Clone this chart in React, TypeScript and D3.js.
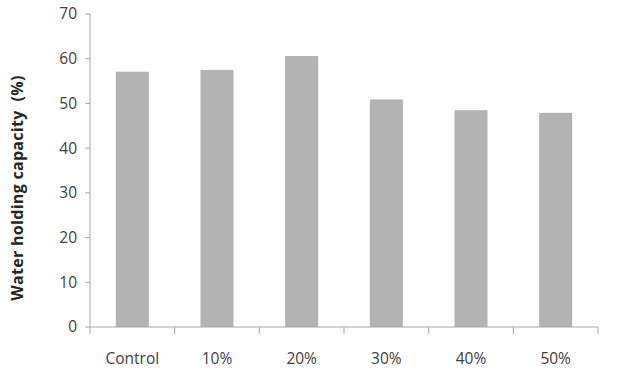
import React from "react";
import * as d3 from "d3";

const categories = ["Control", "10%", "20%", "30%", "40%", "50%"];
const values = [57.1, 57.5, 60.6, 50.9, 48.5, 47.9];
const yTicks = [0, 10, 20, 30, 40, 50, 60, 70];

export default function App() {
  const W = 637, H = 379;
  const left = 90, right = 598, top = 14, bottom = 327;
  const x = d3.scaleBand<string>().domain(categories).range([left, right]).paddingInner(0.61).paddingOuter(0.305);
  const xb = d3.scaleBand<string>().domain(categories).range([left, right]);
  const y = d3.scaleLinear().domain([0, 70]).range([bottom, top]);
  const axisColor = "#a6a6a6";
  const textColor = "#404040";
  const font = "'Open Sans', 'Noto Sans', sans-serif";
  return (
    <svg width={W} height={H} style={{ position: "absolute", left: 0, top: 0 }} fontFamily={font}>
      <rect width={W} height={H} fill="#fff" />
      {categories.map((c, i) => (
        <rect key={c} x={x(c)} y={y(values[i])} width={x.bandwidth()} height={bottom - y(values[i])} fill="#b3b3b3" />
      ))}
      <line x1={left} x2={left} y1={top} y2={bottom} stroke={axisColor} />
      {yTicks.map((t) => (
        <g key={t}>
          <line x1={left - 5} x2={left} y1={y(t)} y2={y(t)} stroke={axisColor} />
          <text x={77} y={y(t)} dy="0.35em" textAnchor="end" fontSize={15.5} fill={textColor}>{t}</text>
        </g>
      ))}
      <line x1={left} x2={right} y1={bottom} y2={bottom} stroke={axisColor} />
      {[...categories.map((c) => xb(c) as number), right].map((v, i) => (
        <line key={i} x1={v} x2={v} y1={bottom} y2={bottom + 7} stroke={axisColor} />
      ))}
      {categories.map((c) => (
        <text key={c} x={(xb(c) as number) + xb.bandwidth() / 2} y={364} textAnchor="middle" fontSize={15.5} fill={textColor}>{c}</text>
      ))}
      <text transform={`translate(23,188) rotate(-90)`} textAnchor="middle" fontSize={16} letterSpacing={0.3} fontWeight="bold" fill="#262626" style={{ whiteSpace: "pre" }}>{"Water holding capacity  (%)"}</text>
    </svg>
  );
}
